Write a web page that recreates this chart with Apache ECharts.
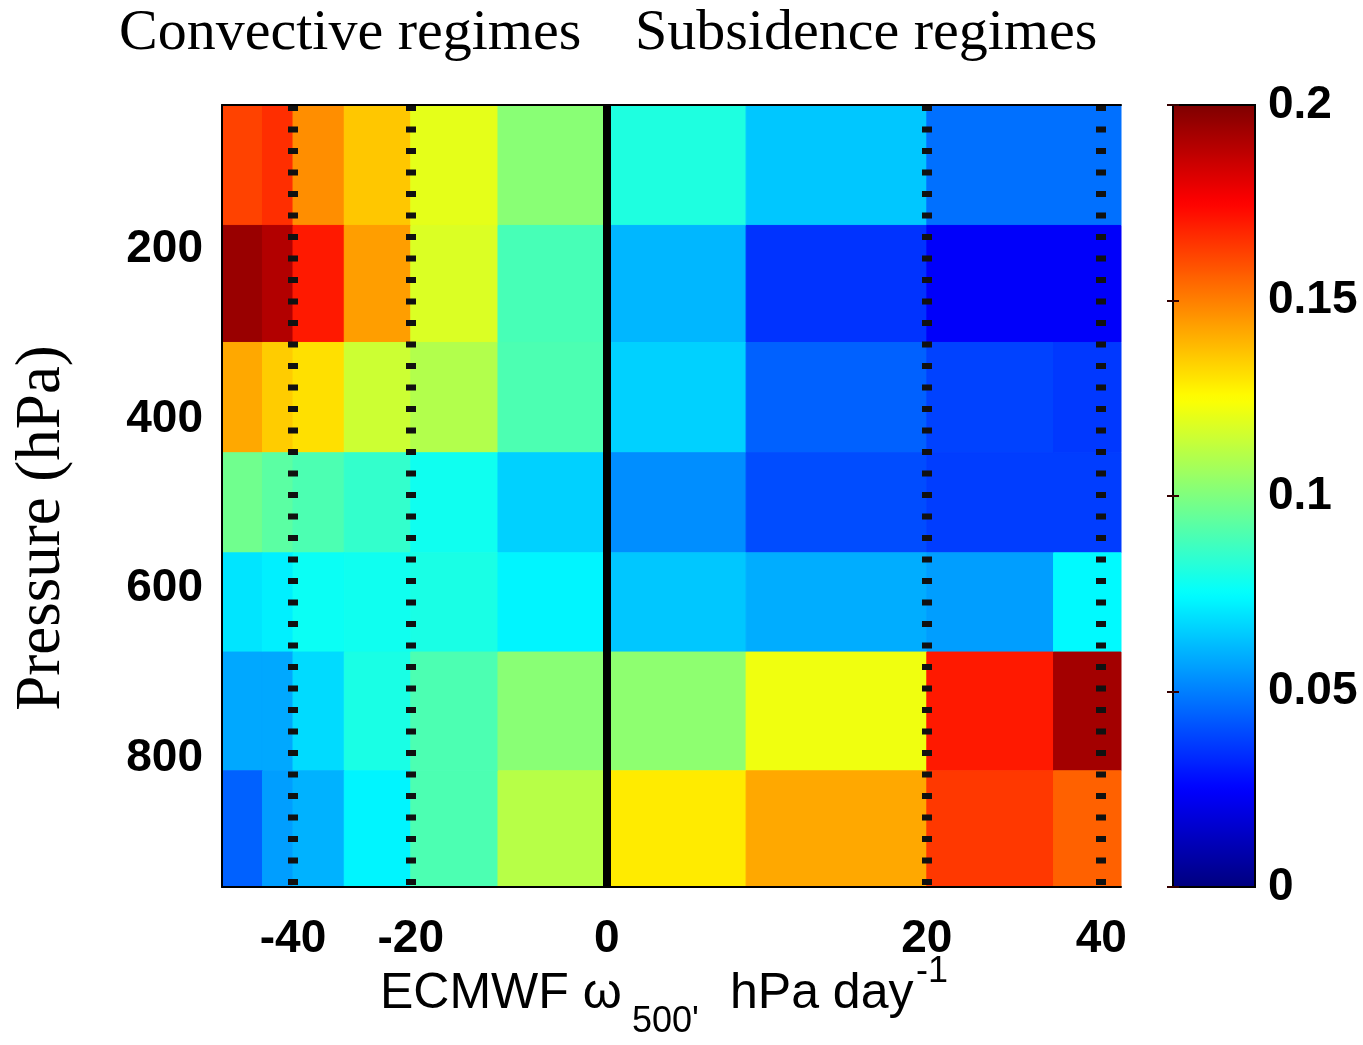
<!DOCTYPE html>
<html>
<head>
<meta charset="utf-8">
<script src="https://cdn.jsdelivr.net/npm/echarts@6/dist/echarts.min.js"></script>
<style>
  html, body { margin: 0; padding: 0; background: #fff; }
  #chart { width: 1363px; height: 1045px; }
</style>
</head>
<body>
<div id="chart"></div>
<script>
// Pressure-layer edges (hPa), top of the atmosphere first
const pressureEdges = [30, 172, 310, 440, 558, 675, 815, 952];
// Edges of the omega regime bins, in bin-position units across the axis (0-100)
const binEdges = [0, 4.5, 7.9, 13.6, 21.0, 30.7, 42.8, 58.3, 78.4, 92.5, 100];
// Omega tick marks: where they sit on the bin axis, and their labels (hPa/day)
const omegaTickPos = [7.9, 21.0, 42.8, 78.4, 97.8];
const omegaTickLabels = ['-40', '-20', '0', '20', '40'];
const pressureTicks = [200, 400, 600, 800];

// Cloud fraction per pressure layer, one value per omega bin (left to right)
const layer1 = [0.162, 0.166, 0.147, 0.136, 0.120, 0.102, 0.081, 0.064, 0.047, 0.047];
const layer2 = [0.195, 0.190, 0.170, 0.144, 0.118, 0.089, 0.061, 0.035, 0.024, 0.024];
const layer3 = [0.142, 0.135, 0.131, 0.115, 0.110, 0.090, 0.066, 0.044, 0.038, 0.036];
const layer4 = [0.097, 0.093, 0.090, 0.085, 0.078, 0.066, 0.053, 0.040, 0.037, 0.037];
const layer5 = [0.070, 0.072, 0.077, 0.078, 0.080, 0.073, 0.064, 0.059, 0.056, 0.074];
const layer6 = [0.058, 0.058, 0.068, 0.080, 0.090, 0.102, 0.103, 0.122, 0.170, 0.193];
const layer7 = [0.044, 0.056, 0.060, 0.073, 0.090, 0.111, 0.129, 0.142, 0.164, 0.156];
const layers = [layer1, layer2, layer3, layer4, layer5, layer6, layer7];

const colorMin = 0, colorMax = 0.2;
// MATLAB "jet" colour stops
const jet = ['#00007F', '#0000FF', '#007FFF', '#00FFFF', '#7FFF7F',
             '#FFFF00', '#FF7F00', '#FF0000', '#7F0000'];

// [xStart, xEnd, pTop, pBottom, value] for each cell
const cells = [];
layers.forEach((vals, r) => {
  vals.forEach((v, c) => {
    cells.push([binEdges[c], binEdges[c + 1], pressureEdges[r], pressureEdges[r + 1], v]);
  });
});

const zeroPos = omegaTickPos[omegaTickLabels.indexOf('0')];
const dottedPos = omegaTickPos.filter((p, i) => omegaTickLabels[i] !== '0');

const tickFont = 'Liberation Sans';
const serif = 'Liberation Serif';

const chart = echarts.init(document.getElementById('chart'), null, { renderer: 'canvas' });

chart.setOption({
  backgroundColor: '#fff',
  animation: false,
  grid: [
    { left: 222, top: 105, width: 899, height: 782, show: false },
    { left: 1173, top: 105, width: 82, height: 782, show: true,
      borderColor: '#000', borderWidth: 2, backgroundColor: 'rgba(0,0,0,0)', z: 10 }
  ],
  xAxis: [
    {
      gridIndex: 0, type: 'value', min: binEdges[0], max: binEdges[binEdges.length - 1],
      position: 'bottom',
      axisLine: { show: true, onZero: false, lineStyle: { color: '#000', width: 2 } },
      axisTick: { show: false },
      splitLine: { show: false },
      axisLabel: {
        customValues: omegaTickPos,
        margin: 29,
        color: '#000',
        fontFamily: tickFont, fontWeight: 'bold', fontSize: 46,
        formatter: (v) => {
          const i = omegaTickPos.findIndex(p => Math.abs(p - v) < 1e-6);
          return i >= 0 ? omegaTickLabels[i] : '';
        }
      },
      z: 5
    },
    {
      gridIndex: 0, type: 'value', min: binEdges[0], max: binEdges[binEdges.length - 1],
      position: 'top',
      axisLine: { show: true, onZero: false, lineStyle: { color: '#000', width: 2 } },
      axisTick: { show: false }, axisLabel: { show: false }, splitLine: { show: false },
      z: 5
    },
    {
      gridIndex: 1, type: 'value', min: 0, max: 1, show: false
    }
  ],
  yAxis: [
    {
      gridIndex: 0, type: 'value', inverse: true,
      min: pressureEdges[0], max: pressureEdges[pressureEdges.length - 1],
      position: 'left',
      axisLine: { show: true, onZero: false, lineStyle: { color: '#000', width: 2 } },
      axisTick: { show: false },
      splitLine: { show: false },
      axisLabel: {
        customValues: pressureTicks,
        margin: 19,
        color: '#000',
        fontFamily: tickFont, fontWeight: 'bold', fontSize: 46
      },
      z: 5
    },
    {
      gridIndex: 1, type: 'value', min: colorMin, max: colorMax, interval: 0.05,
      position: 'right',
      axisLine: { show: false },
      axisTick: { show: true, inside: true, length: 6, lineStyle: { color: '#300', width: 2 } },
      splitLine: { show: false },
      axisLabel: {
        margin: 13, color: '#000',
        fontFamily: tickFont, fontWeight: 'bold', fontSize: 46
      },
      z: 10
    },
    {
      gridIndex: 1, type: 'value', min: colorMin, max: colorMax, interval: 0.05,
      position: 'left',
      axisLine: { show: false },
      axisTick: { show: true, inside: true, length: 6, lineStyle: { color: '#300', width: 2 } },
      splitLine: { show: false },
      axisLabel: { show: false },
      z: 10
    }
  ],
  visualMap: {
    type: 'continuous',
    seriesIndex: 0,
    dimension: 4,
    min: colorMin, max: colorMax,
    inRange: { color: jet },
    orient: 'vertical',
    left: 1173, top: 105,
    itemWidth: 82, itemHeight: 782,
    padding: 0,
    calculable: false,
    hoverLink: false,
    text: null,
    showLabel: false
  },
  series: [
    {
      type: 'custom',
      xAxisIndex: 0, yAxisIndex: 0,
      silent: true,
      encode: { x: [0, 1], y: [2, 3] },
      data: cells,
      renderItem: (params, api) => {
        const a = api.coord([api.value(0), api.value(2)]);
        const b = api.coord([api.value(1), api.value(3)]);
        const color = api.visual('color');
        return {
          type: 'rect',
          shape: {
            x: Math.min(a[0], b[0]), y: Math.min(a[1], b[1]),
            width: Math.abs(b[0] - a[0]), height: Math.abs(b[1] - a[1])
          },
          style: { fill: color, stroke: color, lineWidth: 1 }
        };
      }
    },
    {
      // regime boundaries: dotted at +-20 and +-40, solid at zero
      type: 'line',
      xAxisIndex: 0, yAxisIndex: 0,
      data: [],
      silent: true,
      markLine: {
        silent: true,
        symbol: ['none', 'none'],
        label: { show: false },
        animation: false,
        data: [
          ...dottedPos.map(p => ({
            xAxis: p,
            lineStyle: { color: '#111', width: 10, type: [6, 15.5], cap: 'butt' }
          })),
          { xAxis: zeroPos, lineStyle: { color: '#000', width: 8, type: 'solid' } }
        ]
      }
    }
  ],
  graphic: [
    {
      type: 'text', x: 119, y: 34, silent: true,
      style: { text: 'Convective regimes', fontFamily: serif, fontSize: 58,
               fill: '#000', align: 'left', verticalAlign: 'middle' }
    },
    {
      type: 'text', x: 635, y: 34, silent: true,
      style: { text: 'Subsidence regimes', fontFamily: serif, fontSize: 58,
               fill: '#000', align: 'left', verticalAlign: 'middle' }
    },
    {
      type: 'text', x: 42, y: 528, rotation: Math.PI / 2, silent: true,
      style: { text: 'Pressure (hPa)', fontFamily: serif, fontSize: 63,
               fill: '#000', align: 'center', verticalAlign: 'middle' }
    },
    {
      type: 'text', x: 380, y: 994, silent: true,
      style: { text: 'ECMWF \u03c9', fontFamily: tickFont, fontSize: 50,
               fill: '#000', align: 'left', verticalAlign: 'middle' }
    },
    {
      type: 'text', x: 632, y: 1022, silent: true,
      style: { text: "500'", fontFamily: tickFont, fontSize: 36,
               fill: '#000', align: 'left', verticalAlign: 'middle' }
    },
    {
      type: 'text', x: 730, y: 994, silent: true,
      style: { text: 'hPa day', fontFamily: tickFont, fontSize: 50,
               fill: '#000', align: 'left', verticalAlign: 'middle' }
    },
    {
      type: 'text', x: 916, y: 972, silent: true,
      style: { text: '-1', fontFamily: tickFont, fontSize: 36,
               fill: '#000', align: 'left', verticalAlign: 'middle' }
    }
  ]
});
</script>
</body>
</html>
